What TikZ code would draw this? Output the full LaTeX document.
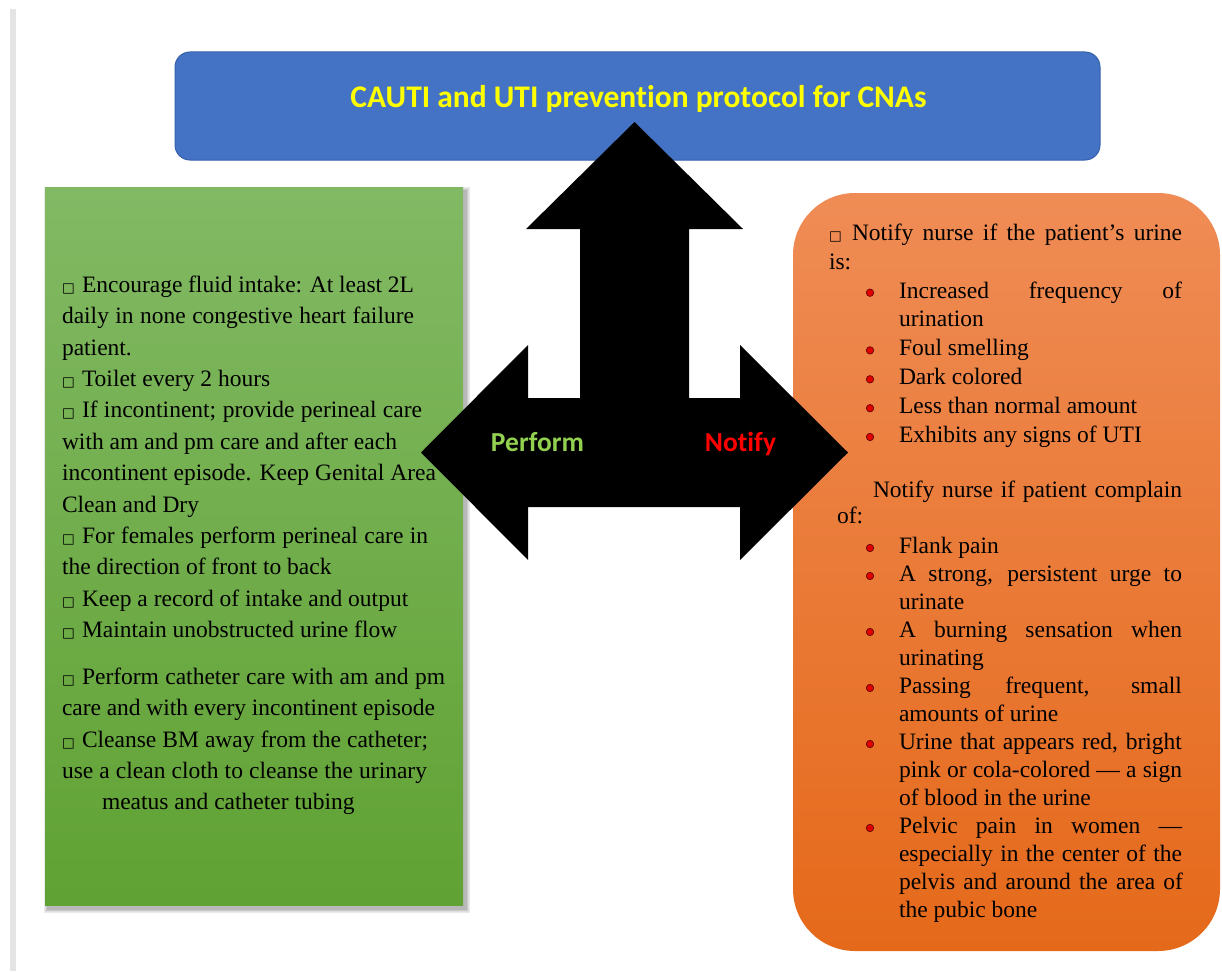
\documentclass[tikz,border=0pt]{standalone}
\usepackage{fontspec}
\setmainfont[Ligatures=NoCommon]{Liberation Serif}
\newfontfamily\calibri[Ligatures=NoCommon]{Carlito}
\newfontfamily\dejavu{DejaVu Sans}

\definecolor{titleblue}{HTML}{4472C4}
\definecolor{titleedge}{HTML}{3560AA}
\definecolor{titletext}{HTML}{FFFF00}
\definecolor{greentop}{HTML}{82B964}
\definecolor{greenbot}{HTML}{60A233}
\definecolor{orangetop}{HTML}{EF8C55}
\definecolor{orangebot}{HTML}{E5691A}
\definecolor{performgreen}{HTML}{92D050}
\definecolor{notifyred}{HTML}{FF0000}
\definecolor{bulletred}{HTML}{E00000}
\definecolor{bulletedge}{HTML}{5A0000}
\definecolor{pagerule}{HTML}{E4E4E4}

% small hollow square used as a paragraph marker
\newcommand\sqmark[1]{\makebox[#1pt][l]{\raisebox{0pt}{\dejavu\fontsize{13.5}{13.5}\selectfont □}}}
% one typeset line: name, x, baseline, width, text (spread to the width)
\newcommand\jline[5]{\node[body] (#1) at (#2,#3) {\makebox[#4pt][s]{#5}};}
% one typeset line at its natural width
\newcommand\nline[4]{\node[body] (#1) at (#2,#3) {#4};}

\begin{document}
\begin{tikzpicture}[x=1pt,y=-1pt,
  body/.style={anchor=base west, inner sep=0pt, outer sep=0pt,
    font=\fontsize{23.5}{28}\selectfont, text=black},
  bulletdot/.style={circle, draw=bulletedge, fill=bulletred, line width=0.6pt,
    minimum size=7.5pt, inner sep=0pt},
  head/.style={font=\calibri\bfseries\fontsize{27.5}{30}\selectfont, anchor=base, inner sep=0pt}]

\useasboundingbox (0,0) rectangle (1222,971);
\fill[white] (0,0) rectangle (1222,971);

% page rule on the left
\fill[pagerule] (10,9) rectangle (16,971);

% soft shadow under the green panel
\foreach \s in {7,6,...,1}
  \fill[black, opacity=0.045] (45+3-\s*0.6,187+4-\s*0.6) rectangle (463+3+\s*0.6,905+4+\s*0.6);

% green panel (perform)
\shade[top color=greentop, bottom color=greenbot] (45,187) rectangle (463,905);

% title bar
\draw[fill=titleblue, draw=titleedge, line width=1pt, rounded corners=15pt] (175,52) rectangle (1100,160);
\node[font=\calibri\bfseries\fontsize{31.5}{36}\selectfont, text=titletext, anchor=base, inner sep=0pt]
  (title) at (638.5,107) {CAUTI and UTI prevention protocol for CNAs};

% orange panel (notify)
\shade[top color=orangetop, bottom color=orangebot, rounded corners=62pt] (793,193) rectangle (1220,951);

% three-way black arrow
\fill[black] (634.5,122) -- (743,229) -- (689,229) -- (689,398) -- (740,398) -- (740,345)
  -- (848,452.5) -- (740,560) -- (740,507) -- (528,507) -- (528,560) -- (421,452.5)
  -- (528,345) -- (528,398) -- (580,398) -- (580,229) -- (526,229) -- cycle;

\node[head, text=performgreen] (perform) at (537.5,451) {Perform};
\node[head, text=notifyred] (notify) at (740.5,451) {Notify};

% green panel text
\jline{g1}{62}{292.3}{352}{\sqmark{20}Encourage fluid intake: At least 2L}
\jline{g2}{62}{323.7}{352}{daily in none congestive heart failure}
\nline{g3}{62}{355.1}{patient.}
\nline{g4}{62}{386.5}{\sqmark{20}Toilet every 2 hours}
\jline{g5}{62}{417.9}{360}{\sqmark{20}If incontinent; provide perineal care}
\jline{g6}{62}{449.3}{335}{with am and pm care and after each}
\jline{g7}{62}{480.7}{374}{incontinent episode. Keep Genital Area}
\nline{g8}{62}{512.1}{Clean and Dry}
\jline{g9}{62}{543.5}{366}{\sqmark{20}For females perform perineal care in}
\nline{g10}{62}{574.9}{the direction of front to back}
\nline{g11}{62}{606.3}{\sqmark{20}Keep a record of intake and output}
\nline{g12}{62}{637.7}{\sqmark{20}Maintain unobstructed urine flow}
\jline{g13}{62}{684.3}{383}{\sqmark{20}Perform catheter care with am and pm}
\jline{g14}{62}{715.7}{373}{care and with every incontinent episode}
\jline{g15}{62}{747.1}{366}{\sqmark{20}Cleanse BM away from the catheter;}
\jline{g16}{62}{778.5}{365}{use a clean cloth to cleanse the urinary}
\nline{g17}{102}{809.9}{meatus and catheter tubing}

% orange panel text
\jline{o1}{829}{240.3}{353}{\sqmark{23}Notify nurse if the patient’s urine}
\nline{o2}{829}{269.2}{is:}
\jline{o3}{899}{298.0}{283}{Increased frequency of}
\nline{o4}{899}{326.9}{urination}
\nline{o5}{899}{355.7}{Foul smelling}
\nline{o6}{899}{384.6}{Dark colored}
\nline{o7}{899}{413.5}{Less than normal amount}
\nline{o8}{899}{442.3}{Exhibits any signs of UTI}
\jline{o9}{873}{497.3}{309}{Notify nurse if patient complain}
\nline{o10}{837}{523.3}{of:}
\nline{o11}{899}{553.3}{Flank pain}
\jline{o12}{899}{581.3}{283}{A strong, persistent urge to}
\nline{o13}{899}{609.3}{urinate}
\jline{o14}{899}{637.3}{283}{A burning sensation when}
\nline{o15}{899}{665.3}{urinating}
\jline{o16}{899}{693.3}{283}{Passing frequent, small}
\nline{o17}{899}{721.3}{amounts of urine}
\jline{o18}{899}{749.3}{283}{Urine that appears red, bright}
\jline{o19}{899}{777.3}{283}{pink or cola-colored — a sign}
\nline{o20}{899}{805.3}{of blood in the urine}
\jline{o21}{899}{833.3}{283}{Pelvic pain in women —}
\jline{o22}{899}{861.3}{283}{especially in the center of the}
\jline{o23}{899}{889.3}{284}{pelvis and around the area of}
\nline{o24}{899}{917.3}{the pubic bone}

% red list bullets
\foreach \n/\yy in {b1/292.7, b2/350.4, b3/379.3, b4/408.2, b5/437,
                    b6/548, b7/576, b8/632, b9/688, b10/744, b11/828}
  \node[bulletdot] (\n) at (870,\yy) {};

\end{tikzpicture}
\end{document}
